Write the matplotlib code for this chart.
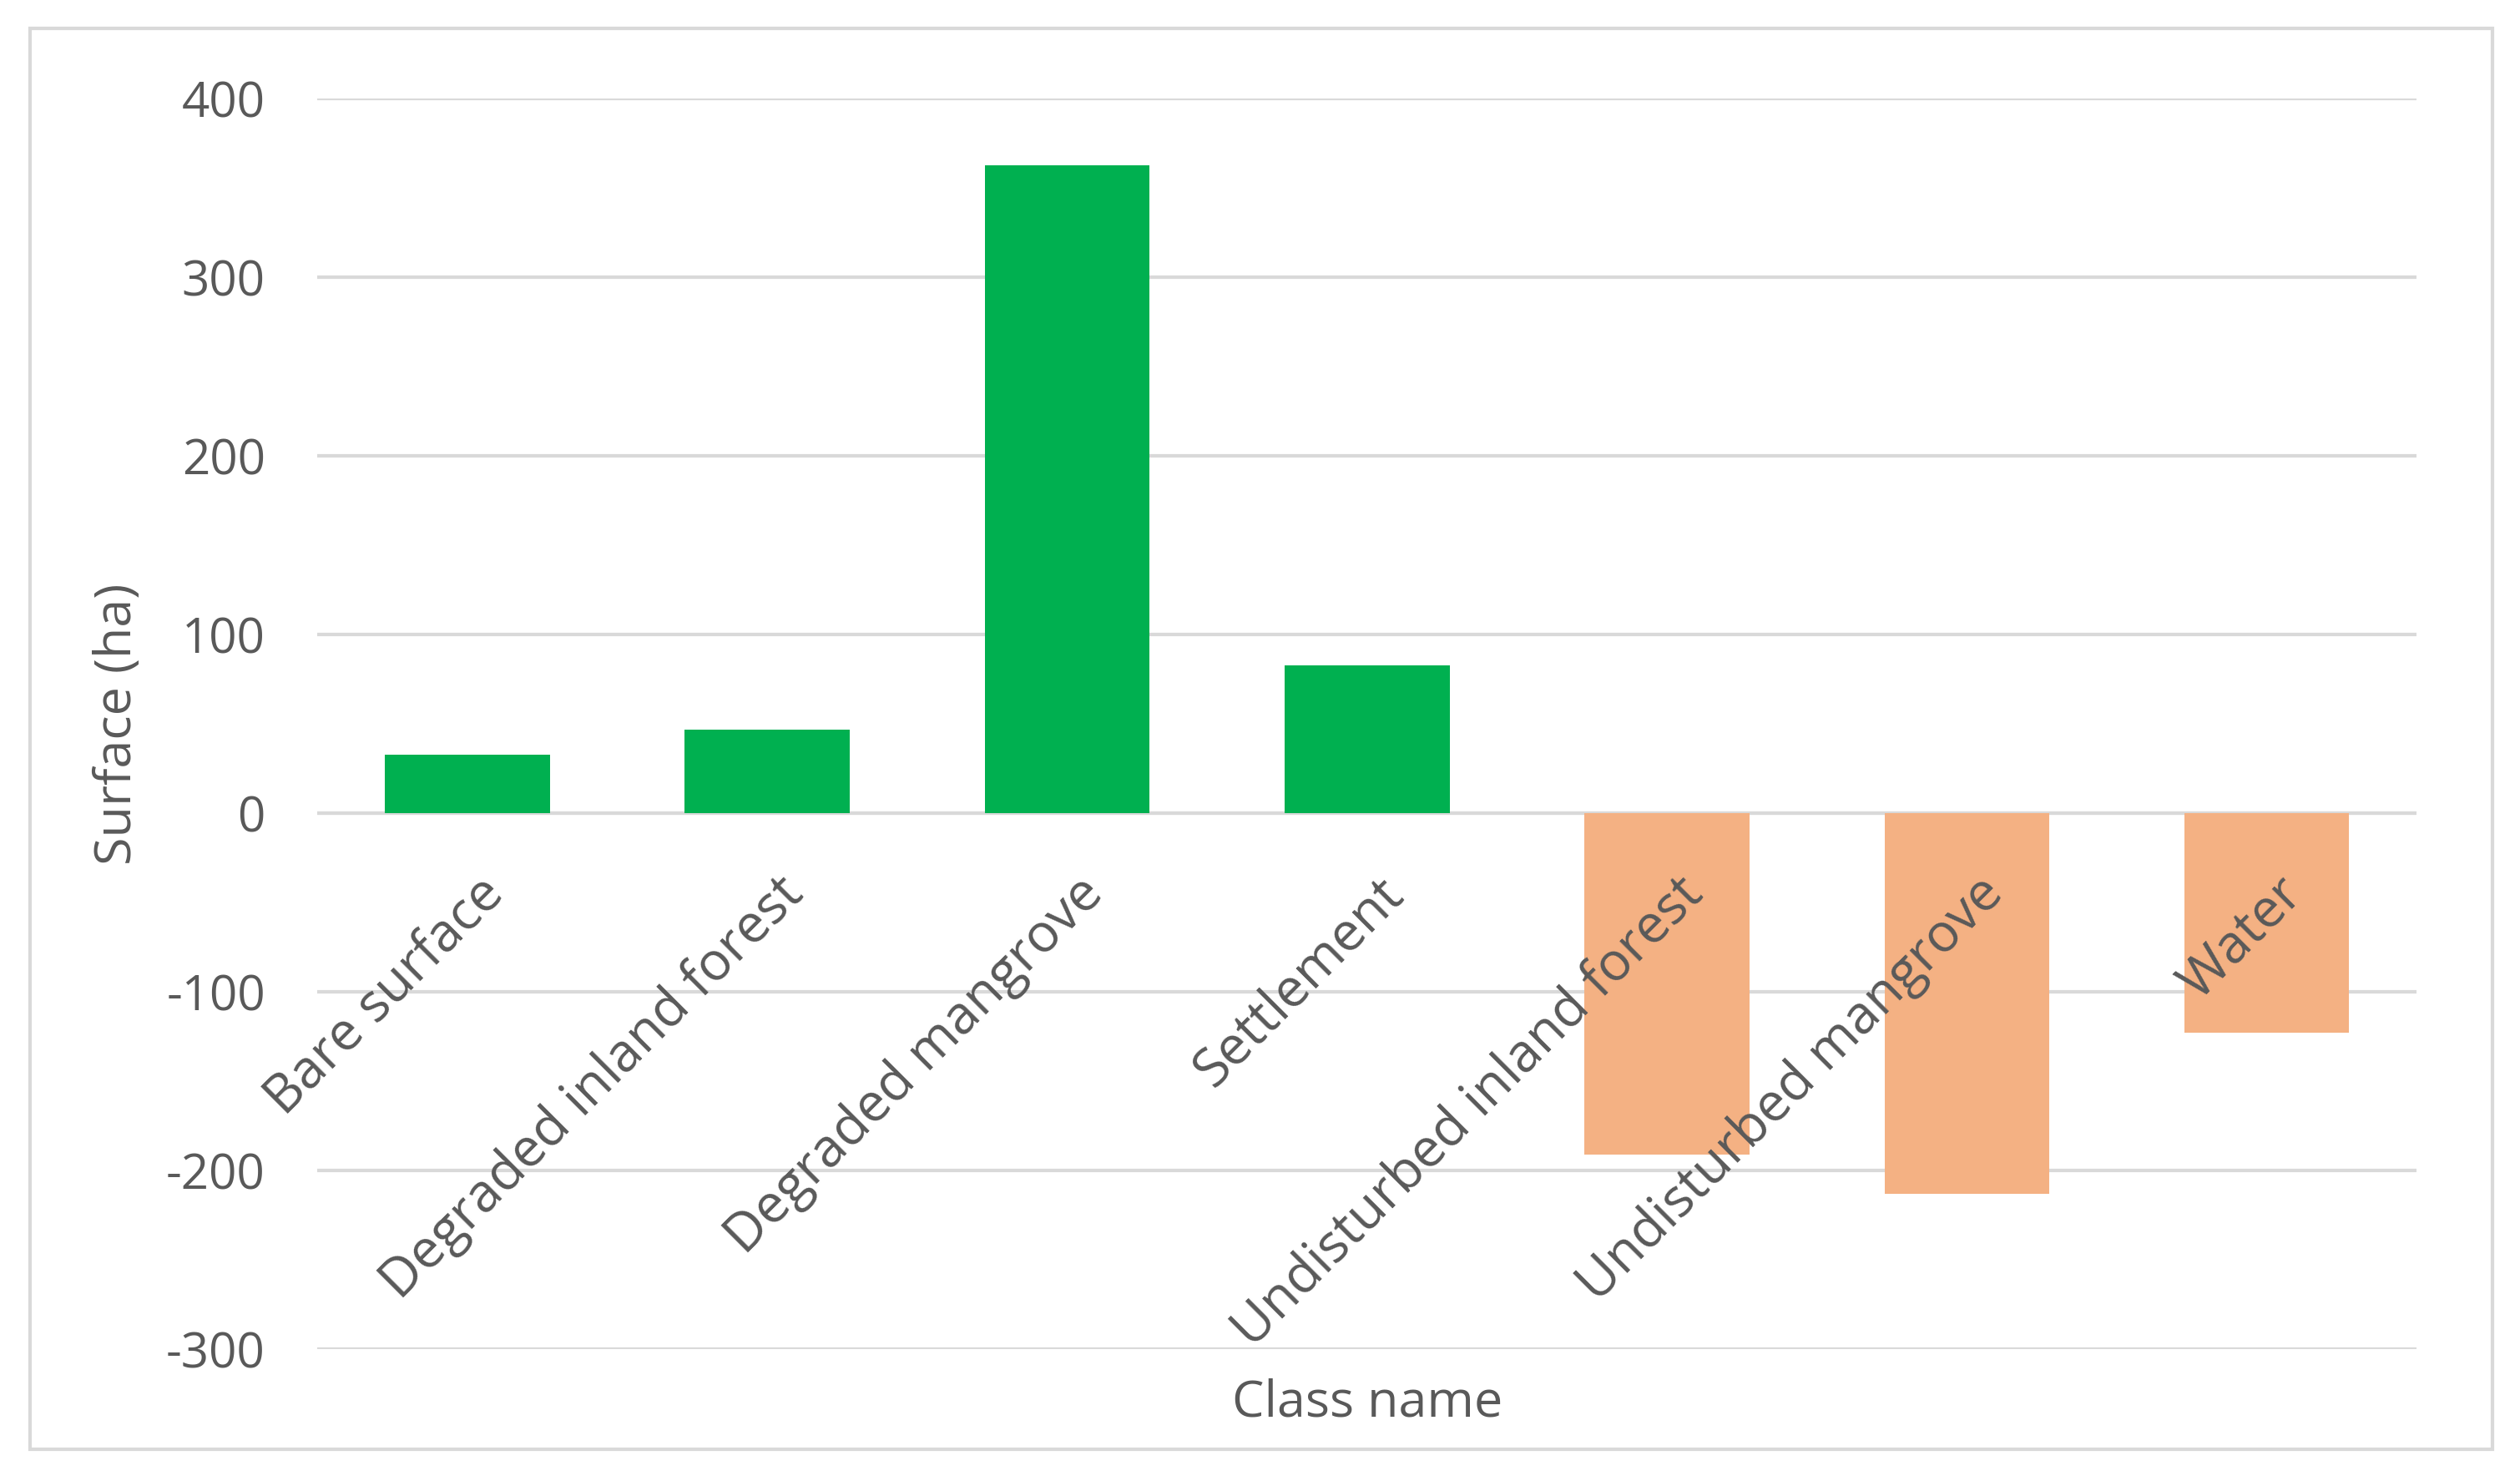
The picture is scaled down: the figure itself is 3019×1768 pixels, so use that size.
import numpy as np
import matplotlib
matplotlib.use('Agg')
import matplotlib.pyplot as plt
from matplotlib.patches import Rectangle

# surface change per class (ha)
classes = ['Bare surface', 'Degraded inland forest', 'Degraded mangrove', 'Settlement',
           'Undisturbed inland forest', 'Undisturbed mangrove', 'Water']
values = [33, 47, 363, 83, -191, -213, -123]
yticks = [-300, -200, -100, 0, 100, 200, 300, 400]

txt = '#595959'
plt.rcParams['font.family'] = ['Open Sans', 'DejaVu Sans']

fig = plt.figure(figsize=(30.19, 17.68), dpi=100)
ax = fig.add_axes([0.126, 0.086, 0.833, 0.847])

x = np.arange(len(classes))
cols = ['#00B050' if v >= 0 else '#F4B183' for v in values]
ax.bar(x, values, width=0.55, color=cols, zorder=3)

ax.set_ylim(-300, 400)
ax.set_xlim(-0.5, len(classes) - 0.5)
ax.set_yticks(yticks)
ax.set_yticklabels([str(t) for t in yticks], fontsize=42, color=txt)
ax.tick_params(axis='y', length=0, pad=45)
ax.set_xticks([])
ax.grid(axis='y', color='#D9D9D9', lw=3, zorder=0)
ax.axhline(0, color='#D9D9D9', lw=3, zorder=2)
for s in ax.spines.values():
    s.set_visible(False)

for i, c in enumerate(classes):
    ax.text(i + 0.03, -30, c, rotation=45, ha='right', va='top',
            rotation_mode='anchor', fontsize=46, color=txt, zorder=4)

ax.set_ylabel('Surface (ha)', fontsize=44, color=txt, labelpad=20)
ax.set_xlabel('Class name', fontsize=44, color=txt, labelpad=25)

fig.patches.append(Rectangle((0.012, 0.018), 0.977, 0.963, transform=fig.transFigure,
                             fill=False, edgecolor='#D9D9D9', lw=3))

fig.savefig('out.png', dpi=100)
